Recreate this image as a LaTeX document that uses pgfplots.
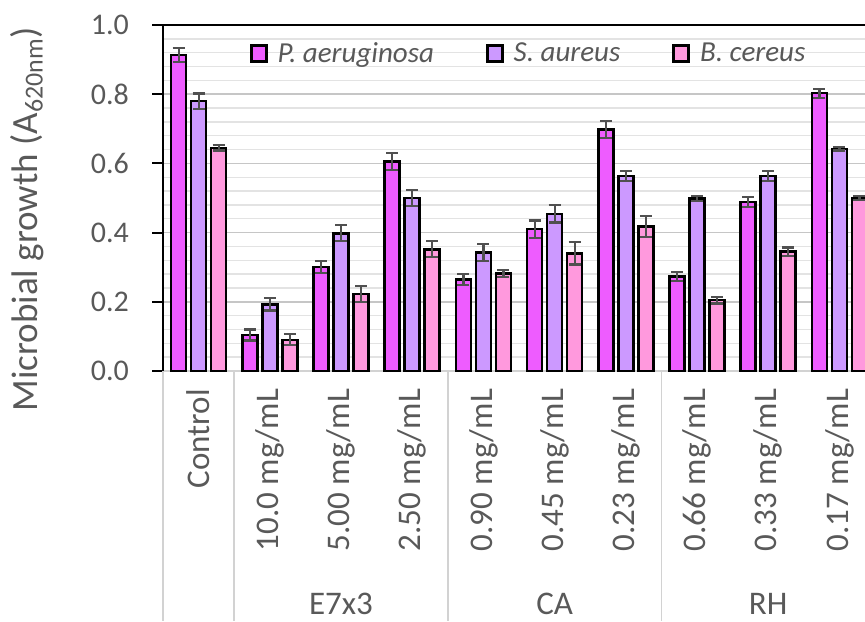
\documentclass[border=0pt]{standalone}
\usepackage{fontspec}
\setmainfont{Carlito}
\usepackage{pgfplots}
\usepackage{pgfplotstable}
\pgfplotsset{compat=1.18}

\definecolor{paer}{HTML}{EE5CFF}
\definecolor{saur}{HTML}{CC99FF}
\definecolor{bcer}{HTML}{FF99DD}
\definecolor{txt}{HTML}{595959}
\definecolor{errc}{HTML}{505050}

% mean absorbance and standard deviation per treatment
\pgfplotstableread{
x p pe s se b be
0 0.913 0.020 0.780 0.022 0.645 0.008
1 0.104 0.016 0.193 0.018 0.090 0.016
2 0.301 0.018 0.398 0.023 0.222 0.023
3 0.605 0.025 0.500 0.022 0.352 0.023
4 0.265 0.016 0.343 0.024 0.282 0.011
5 0.410 0.025 0.454 0.025 0.340 0.032
6 0.698 0.025 0.564 0.014 0.417 0.030
7 0.273 0.012 0.498 0.007 0.205 0.010
8 0.489 0.015 0.564 0.014 0.345 0.012
9 0.803 0.013 0.642 0.005 0.500 0.005
}\growth

\begin{document}
\begin{tikzpicture}
\useasboundingbox (0,0) rectangle (432.5pt,310.5pt);
\begin{axis}[
  at={(81.5pt,125pt)}, anchor=south west,
  scale only axis, width=356pt, height=173pt,
  xmin=-0.5, xmax=9.5, ymin=0, ymax=1,
  clip=false,
  axis lines=left,
  axis line style={-},
  y axis line style={black, line width=1pt},
  x axis line style={gray!35, line width=0.8pt},
  ybar=2.5pt, bar width=7.5pt,
  tick align=outside,
  major tick length=5.5pt,
  minor tick length=0pt,
  ytick={0,0.2,...,1.0},
  minor y tick num=4,
  ytick style={black, line width=1pt},
  xtick style={draw=none},
  ymajorgrids, yminorgrids,
  major grid style={gray!45, line width=0.7pt},
  minor grid style={gray!22, line width=0.7pt},
  yticklabel style={font=\fontsize{15}{15}\selectfont, text=txt, xshift=-8pt},
  /pgf/number format/.cd, fixed, fixed zerofill, precision=1, assume math mode=true,
  /pgfplots/.cd,
  xtick={0,...,9},
  xticklabels={Control,10.0 mg/mL,5.00 mg/mL,2.50 mg/mL,0.90 mg/mL,0.45 mg/mL,0.23 mg/mL,0.66 mg/mL,0.33 mg/mL,0.17 mg/mL},
  xticklabel style={rotate=90, anchor=east, font=\fontsize{16.5}{16.5}\selectfont, text=txt},
  legend style={draw=none, fill=none, at={(0.515,0.917)}, anchor=center,
    legend columns=-1, font=\fontsize{14.5}{14.5}\selectfont\itshape, text=txt,
    /tikz/every odd column/.append style={column sep=3pt},
    /tikz/every even column/.append style={column sep=24pt}},
  legend image code/.code={\draw[#1, line width=1.3pt] (0pt,-4pt) rectangle (7.5pt,4pt);},
  every axis plot/.append style={draw=black, line width=1.3pt},
  error bars/y dir=both, error bars/y explicit,
  error bars/error bar style={errc, line width=1.1pt},
  error bars/error mark options={rotate=90, errc, mark size=3pt, line width=1.1pt},
]
\addplot[fill=paer] table[x=x, y=p, y error=pe] {\growth};
\addplot[fill=saur] table[x=x, y=s, y error=se] {\growth};
\addplot[fill=bcer] table[x=x, y=b, y error=be] {\growth};
\legend{P. aeruginosa, S. aureus, B. cereus}

% top border of the plot area
\draw[black, line width=1pt] (rel axis cs:0,1) -- (rel axis cs:1,1);
% separators of the category axis
\pgfplotsinvokeforeach{-0.5,0.5,3.5,6.5,9.5}{
  \draw[gray!35, line width=0.8pt] (axis cs:#1,0) -- ++(0pt,-125pt);
}
% group names
\node[font=\fontsize{16.5}{16.5}\selectfont, text=txt] at (axis cs:2,0) [yshift=-116.5pt] {E7x3};
\node[font=\fontsize{16.5}{16.5}\selectfont, text=txt] at (axis cs:5,0) [yshift=-116.5pt] {CA};
\node[font=\fontsize{16.5}{16.5}\selectfont, text=txt] at (axis cs:8,0) [yshift=-116.5pt] {RH};
\end{axis}
\node[rotate=90, anchor=base, font=\fontsize{18.5}{18.5}\selectfont, text=txt]
  at (18.5pt,201pt) {Microbial growth (A\textsubscript{620nm})};
\end{tikzpicture}
\end{document}
